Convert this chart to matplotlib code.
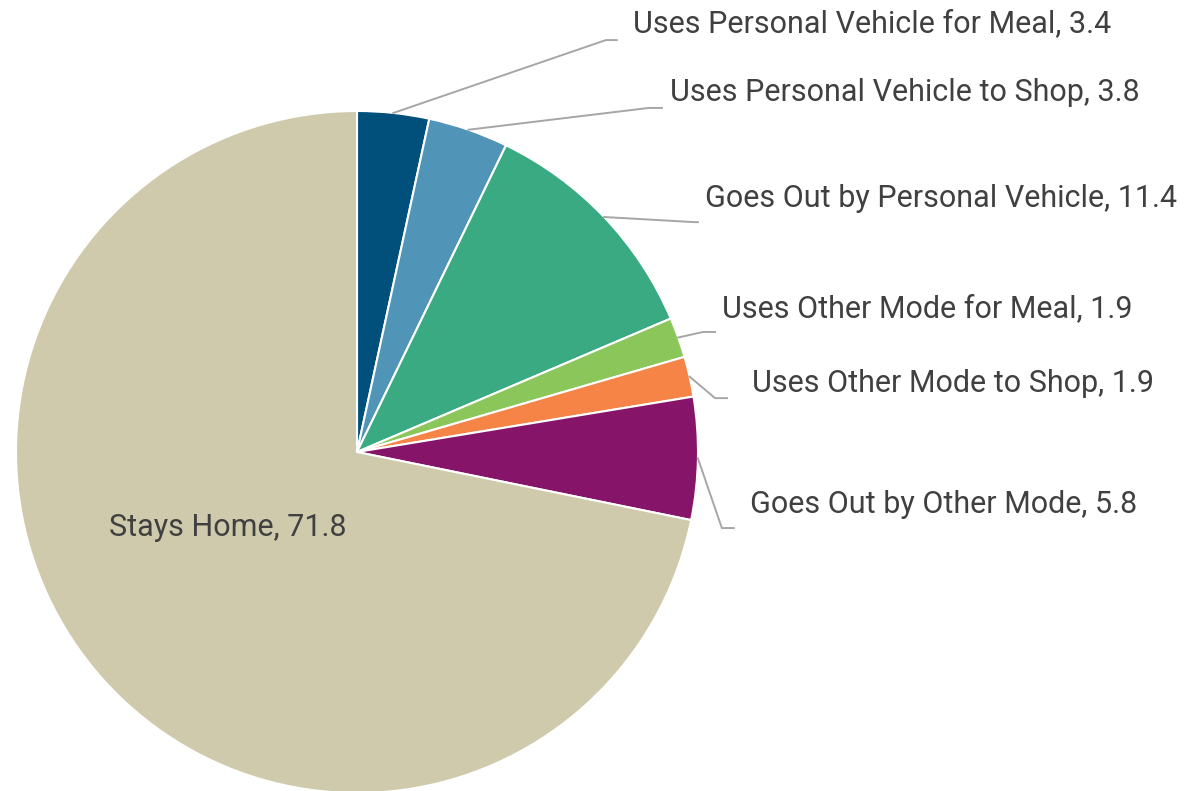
import numpy as np
import matplotlib
matplotlib.use("Agg")
import matplotlib.pyplot as plt

categories = [
    "Uses Personal Vehicle for Meal",
    "Uses Personal Vehicle to Shop",
    "Goes Out by Personal Vehicle",
    "Uses Other Mode for Meal",
    "Uses Other Mode to Shop",
    "Goes Out by Other Mode",
    "Stays Home",
]
values = [3.4, 3.8, 11.4, 1.9, 1.9, 5.8, 71.8]
colors = ["#00507B", "#5094B8", "#3AAA82", "#8BC65A", "#F58446", "#86156A", "#CFCAAC"]

# label layout (data coords, pie radius = 1): elbow, line end, text anchor
elbows = [(0.730, 1.208), (0.856, 1.009), (0.991, 0.674), (1.015, 0.352), (1.050, 0.158), (1.070, -0.223)]
line_ends = [(0.762, 1.208), (0.894, 1.009), (1.000, 0.674), (1.050, 0.352), (1.085, 0.158), (1.105, -0.223)]
text_pos = [(0.809, 1.255), (0.918, 1.053), (1.021, 0.742), (1.070, 0.419), (1.158, 0.202), (1.152, -0.153)]

TEXT = "#404040"
LINE = "#A6A6A6"
FONT = "Roboto"
FS = 22

fig = plt.figure(figsize=(11.93, 7.91), dpi=100)
ax = fig.add_axes([0, 0, 1, 1])

wedges, _ = ax.pie(values, colors=colors, startangle=90, counterclock=False,
                   radius=1.0, center=(0, 0), frame=True,
                   wedgeprops={"edgecolor": "white", "linewidth": 1.5})
ax.set_xlim(-357 / 341, (1193 - 357) / 341)
ax.set_ylim((452 - 791) / 341, 452 / 341)
ax.set_aspect("equal")
ax.axis("off")

for i, w in enumerate(wedges[:-1]):
    ang = np.deg2rad((w.theta1 + w.theta2) / 2)
    x0, y0 = np.cos(ang), np.sin(ang)
    ex, ey = elbows[i]
    lx, ly = line_ends[i]
    ax.plot([x0, ex, lx], [y0, ey, ly], color=LINE, lw=1.4, zorder=1)
    tx, ty = text_pos[i]
    ax.text(tx, ty, f"{categories[i]}, {values[i]}", ha="left", va="center",
            fontsize=FS, color=TEXT, family=FONT)

ax.text((228 - 357) / 341, (452 - 528) / 341, f"{categories[-1]}, {values[-1]}",
        ha="center", va="center", fontsize=FS, color=TEXT, family=FONT)

fig.savefig("out.png", dpi=100)
